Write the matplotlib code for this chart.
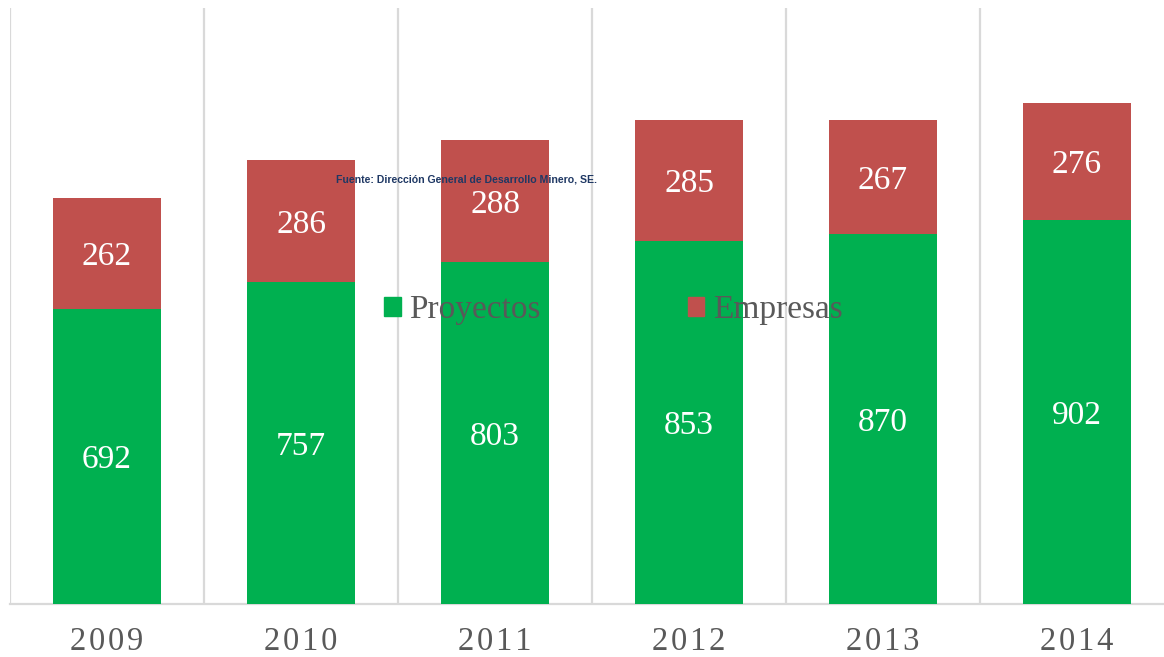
import matplotlib.pyplot as plt
import matplotlib.patches as mpatches
import numpy as np

years = ['2009', '2010', '2011', '2012', '2013', '2014']
proyectos = [692, 757, 803, 853, 870, 902]
empresas = [262, 286, 288, 285, 267, 276]

green = '#00B050'
red = '#C0504D'
grey = '#595959'

fig = plt.figure(figsize=(11.64, 6.57), dpi=100)
# plot area runs past the right edge like in the original
ax = fig.add_axes([10 / 1164, 53 / 657, 1164 / 1164, 596 / 657])

x = np.arange(len(years))
ax.bar(x, proyectos, width=0.557, color=green, zorder=3)
ax.bar(x, empresas, width=0.557, bottom=proyectos, color=red, zorder=3)

for i in range(len(years)):
    ax.annotate(str(proyectos[i]), (x[i], proyectos[i] / 2), xytext=(0, -2.5),
                textcoords='offset points', ha='center', va='center',
                color='white', fontsize=24, family='Liberation Serif', zorder=4)
    ax.annotate(str(empresas[i]), (x[i], proyectos[i] + empresas[i] / 2), xytext=(0, -2.5),
                textcoords='offset points', ha='center', va='center',
                color='white', fontsize=24, family='Liberation Serif', zorder=4)

ax.set_xlim(-0.5, 5.5)
ax.set_ylim(0, 1400)
ax.set_xticks(x)
# years in the original are slightly letter-spaced
ax.set_xticklabels(['\u200a'.join(y) for y in years], fontsize=23.5,
                   family='Liberation Serif', color=grey)
ax.tick_params(axis='x', length=0, pad=16)
ax.set_yticks([])
ax.set_xticks(np.arange(-0.5, 6, 1), minor=True)
ax.tick_params(axis='x', which='minor', length=0)
ax.grid(axis='x', which='minor', color='#D9D9D9', lw=1.6, zorder=0)
for s in ['top', 'right', 'left']:
    ax.spines[s].set_visible(False)
ax.spines['bottom'].set_color('#D9D9D9')
ax.spines['bottom'].set_linewidth(1.6)

handles = [mpatches.Patch(color=green, label='Proyectos'),
           mpatches.Patch(color=red, label='Empresas')]
leg = fig.legend(handles=handles, loc='center', bbox_to_anchor=(0.527, 0.528), ncol=2,
                 frameon=False, prop={'family': 'Liberation Serif', 'size': 24},
                 handlelength=0.5, handleheight=0.5, handletextpad=0.25,
                 columnspacing=4.4, labelcolor=grey)
leg.set_zorder(5)

fig.text(466 / 1164, 1 - 180 / 657, 'Fuente: Dirección General de Desarrollo Minero, SE.',
         ha='center', va='center', fontsize=7.6, fontweight='bold',
         family='Liberation Sans', color='#1F3864', zorder=6)

fig.savefig('out.png', dpi=100)
